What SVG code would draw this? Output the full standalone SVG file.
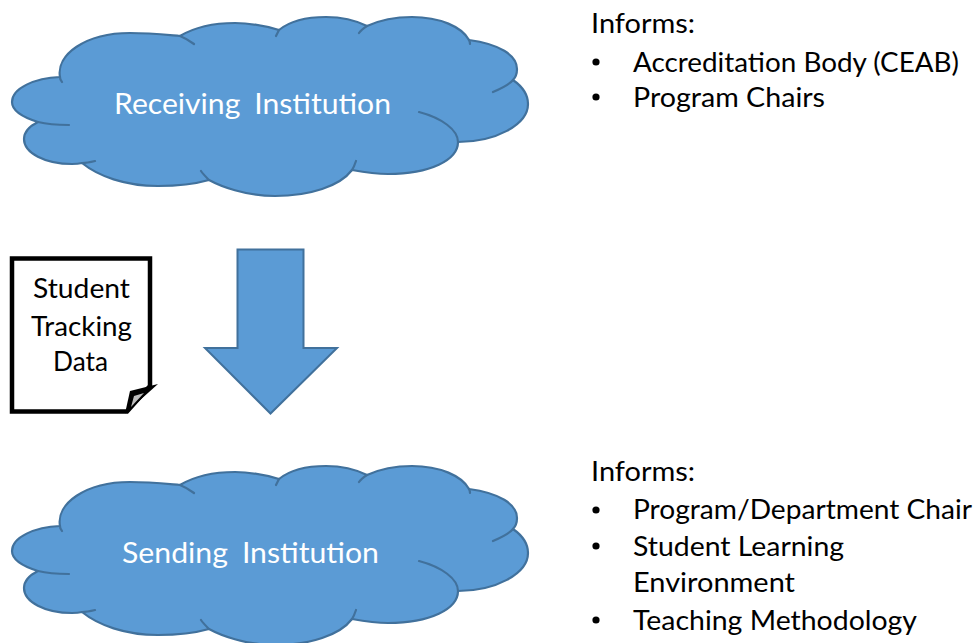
<svg xmlns="http://www.w3.org/2000/svg" xmlns:xlink="http://www.w3.org/1999/xlink" width="977" height="643" viewBox="0 0 977 643">
<style>
text{font-family:Lato,"Liberation Sans",sans-serif;font-size:27px;fill:#000}
.c{font-size:29px;fill:#fff;text-anchor:middle;word-spacing:6px}
.m{text-anchor:middle}
.cloud{fill:#5B9BD5;stroke:#41719C;stroke-width:2.2;stroke-linejoin:round}
.tail{fill:none;stroke:#41719C;stroke-width:2.2;stroke-linecap:round}
</style>
<defs>
<g id="cloudShape">
<path class="cloud" d="M60,77 C56,55 85,33 130,33 C150,33 168,35 180,36 C195,27 215,23 235,23 C250,23 265,26 279,30 C290,21 308,17 326,17 C342,17 357,21 367,26 C380,20 396,17 412,17 C440,17 462,27 469,40 C499,44 517,55 517,69 C517,73 516,77 513,80 C523,87 528,95 528,104 C528,125 495,142 458,142 C458,160 430,174 388,174 C375,174 363,172 352,170 C340,186 310,196 275,196 C245,196 220,186 209,180 C195,184 178,186 158,186 C125,186 98,176 82,163 C78,164 75,164 72,164 C45,164 24,153 24,139 C24,132 30,126 38,122 C22,117 12,110 12,102 C12,88 35,78 60,77 Z"/>
<path class="tail" d="M60,77 C60,79 61,81 62,82 M180,36 C185,38 190,41 194,44 M279,30 C278,32 277,34 276,36 M367,26 C364,28 361,30 359,33 M469,40 C470,42 470,43 470,44 M513,80 C509,85 500,89 493,92 M458,142 C458,130 442,118 419,112 M352,170 C354,167 355,164 356,161 M209,180 C206,177 203,174 201,171 M82,163 C87,163 91,162 95,161 M38,122 C46,124 57,125 69,125"/>
</g>
</defs>
<g id="receiving-institution">
<use href="#cloudShape" xlink:href="#cloudShape"/>
<text class="c" x="252.500" y="114" textLength="277" lengthAdjust="spacingAndGlyphs">Receiving Institution</text>
</g>
<g id="sending-institution">
<use href="#cloudShape" xlink:href="#cloudShape" y="449"/>
<text class="c" x="250.500" y="563" textLength="257" lengthAdjust="spacingAndGlyphs">Sending Institution</text>
</g>
<g id="student-tracking-data">
<path d="M12,258.500 H150 V386 L127,411.500 H12 Z" fill="#fff" stroke="#000" stroke-width="4.500" stroke-linejoin="miter"/>
<path d="M125,413.500 L130,391 L158,384 Z" fill="#000"/>
<path d="M131,407 L134,396 L144,393 Z" fill="#BDBDBD"/>
<text class="m" x="81.500" y="298" textLength="97" lengthAdjust="spacingAndGlyphs">Student</text>
<text class="m" x="81.500" y="336" textLength="101" lengthAdjust="spacingAndGlyphs">Tracking</text>
<text class="m" x="80.500" y="371" textLength="55" lengthAdjust="spacingAndGlyphs">Data</text>
</g>
<g id="connectors">
<path d="M237.500,249.500 H303.500 V348 H337 L270.500,413.500 L205,348 H237.500 Z" fill="#5B9BD5" stroke="#41719C" stroke-width="2"/>
</g>
<g id="informs-receiving">
<text x="591" y="33" textLength="104" lengthAdjust="spacingAndGlyphs">Informs:</text>
<circle cx="596" cy="62" r="3.600"/>
<text x="633" y="72" textLength="326" lengthAdjust="spacingAndGlyphs">Accreditation Body (CEAB)</text>
<circle cx="596" cy="97" r="3.600"/>
<text x="633" y="107" textLength="192" lengthAdjust="spacingAndGlyphs">Program Chairs</text>
</g>
<g id="informs-sending">
<text x="591" y="481" textLength="104" lengthAdjust="spacingAndGlyphs">Informs:</text>
<circle cx="596" cy="510" r="3.600"/>
<text x="633" y="519" textLength="339" lengthAdjust="spacingAndGlyphs">Program/Department Chair</text>
<circle cx="596" cy="546" r="3.600"/>
<text x="633" y="556" textLength="211" lengthAdjust="spacingAndGlyphs">Student Learning</text>
<text x="633" y="592" textLength="162" lengthAdjust="spacingAndGlyphs">Environment</text>
<circle cx="596" cy="620" r="3.600"/>
<text x="633" y="630" textLength="284" lengthAdjust="spacingAndGlyphs">Teaching Methodology</text>
</g>
</svg>
